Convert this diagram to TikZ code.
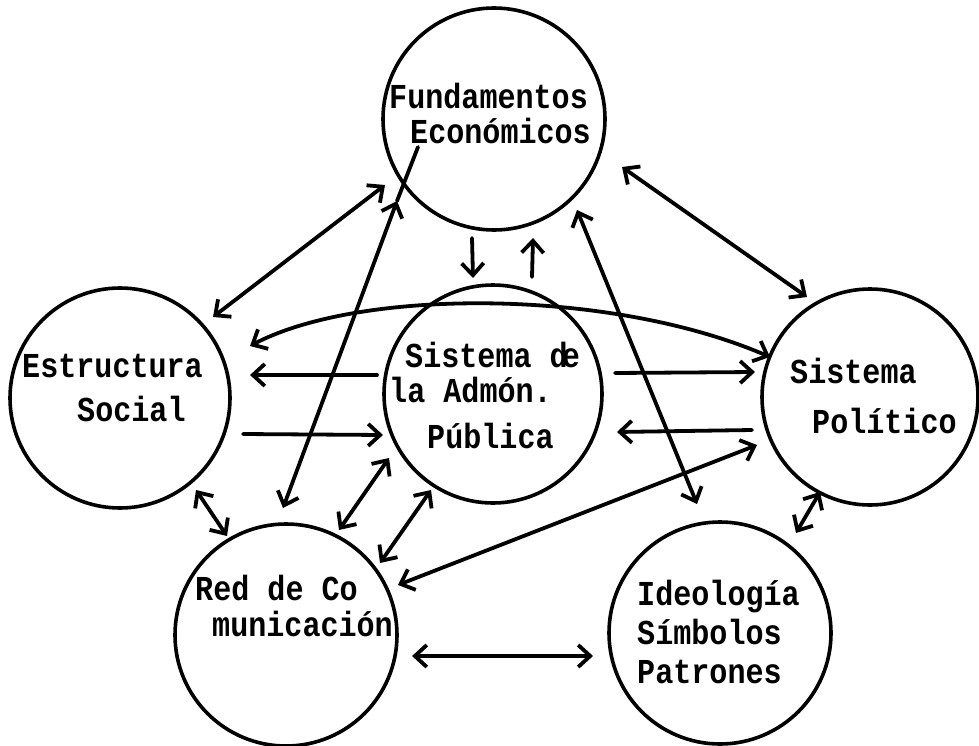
\documentclass[tikz,border=0pt]{standalone}
\usepackage{fontspec}
\newfontfamily\tw[FakeStretch=0.86]{Liberation Mono}
\usetikzlibrary{arrows.meta}
\newcommand{\twolines}[4]{\vtop{\baselineskip=#1\lineskiplimit=-100pt\lineskip=0pt
  \hbox{\kern#2#3}\hbox{#4}}}
\tikzset{
  bubble/.style={circle, draw, line width=3.6pt, inner sep=0pt},
  lblfont/.style={font=\tw\bfseries\fontsize{35}{40}\selectfont},
  lbl/.style={anchor=base west, inner sep=0pt, text height=22pt, text depth=3pt, lblfont},
  lblpair/.style={anchor=base west, inner sep=0pt, lblfont},
  conn/.style={line width=3.8pt, line cap=round},
  >={Straight Barb[length=12pt,width=22pt,line width=3.8pt]}
}
\begin{document}
\begin{tikzpicture}[x=1pt,y=-1pt]
\fill[white] (0,0) rectangle (979,746);
\useasboundingbox (0,0) rectangle (979,746);
% circles
\node[bubble, minimum size=222pt] (fund) at (494,119) {};
\node[bubble, minimum size=220pt] (estr) at (120,398) {};
\node[bubble, minimum size=218pt] (adm) at (493,394) {};
\node[bubble, minimum size=216pt] (pol) at (870,397) {};
\node[bubble, minimum size=222pt] (red) at (286,635) {};
\node[bubble, minimum size=222pt] (ideo) at (720,633) {};
% labels
\node[lblpair] (fundtxt) at (389,109) {\twolines{35pt}{0pt}{Fundamentos}{\kern21pt Económicos}};
\node[lbl] (estr1) at (22,377) {Estructura};
\node[lbl] (estr2) at (77,421) {Social};
\node[lblpair] (admtxt) at (389,367) {\twolines{35pt}{16pt}{Sistema d\kern-6pt e}{la Admón.}};
\node[lbl] (adm3) at (427,448) {Pública};
\node[lbl] (pol1) at (790,383) {Sistema};
\node[lbl] (pol2) at (812,433) {Político};
\node[lbl] (red1) at (195,600) {Red de Co};
\node[lbl] (red2) at (212,636) {municación};
\node[lbl] (ideo1) at (637,605) {Ideología};
\node[lbl] (ideo2) at (637,644) {Símbolos};
\node[lbl] (ideo3) at (637,683) {Patrones};
% connector end points
\coordinate (fE) at (385,185); \coordinate (eF) at (213,317);
\coordinate (rF) at (283,508); \coordinate (fR) at (397,201); \coordinate (fRin) at (418,147);
\coordinate (fA1) at (472,238); \coordinate (aF1) at (473,278);
\coordinate (aF2) at (532,277); \coordinate (fA2) at (533,238);
\coordinate (fP) at (622,167); \coordinate (pF) at (807,297);
\coordinate (fI) at (577,210); \coordinate (iF) at (697,504);
\coordinate (eP) at (250,346); \coordinate (pE) at (770,357);
\coordinate (aE) at (377,375); \coordinate (eA) at (250,375);
\coordinate (eA2) at (243,434); \coordinate (aE2) at (383,435);
\coordinate (aP) at (615,373); \coordinate (pA) at (755,372);
\coordinate (pA2) at (752,430); \coordinate (aP2) at (617,432);
\coordinate (rP) at (398,585); \coordinate (pR) at (757,445);
\coordinate (eR) at (196,490); \coordinate (rE) at (227,536);
\coordinate (rA1) at (339,530); \coordinate (aR1) at (389,458);
\coordinate (rA2) at (380,563); \coordinate (aR2) at (431,490);
\coordinate (pI) at (820,492); \coordinate (iP) at (796,533);
\coordinate (rI) at (412,656); \coordinate (iR) at (593,656);
% connectors
\draw[conn,<->] (fE) -- (eF);
\draw[conn,<->] (rF) -- (fR);
\draw[conn] (fR) -- (fRin);
\draw[conn,->] (fA1) -- (aF1);
\draw[conn,->] (aF2) -- (fA2);
\draw[conn,<->] (fP) -- (pF);
\draw[conn,<->] (fI) -- (iF);
\draw[conn,<->] (eP) .. controls (360,288) and (610,288) .. (pE);
\draw[conn,->] (aE) -- (eA);
\draw[conn,->] (eA2) -- (aE2);
\draw[conn,->] (aP) -- (pA);
\draw[conn,->] (pA2) -- (aP2);
\draw[conn,<->] (rP) -- (pR);
\draw[conn,<->] (eR) -- (rE);
\draw[conn,<->] (rA1) -- (aR1);
\draw[conn,<->] (rA2) -- (aR2);
\draw[conn,<->] (pI) -- (iP);
\draw[conn,<->] (rI) -- (iR);
\end{tikzpicture}
\end{document}
